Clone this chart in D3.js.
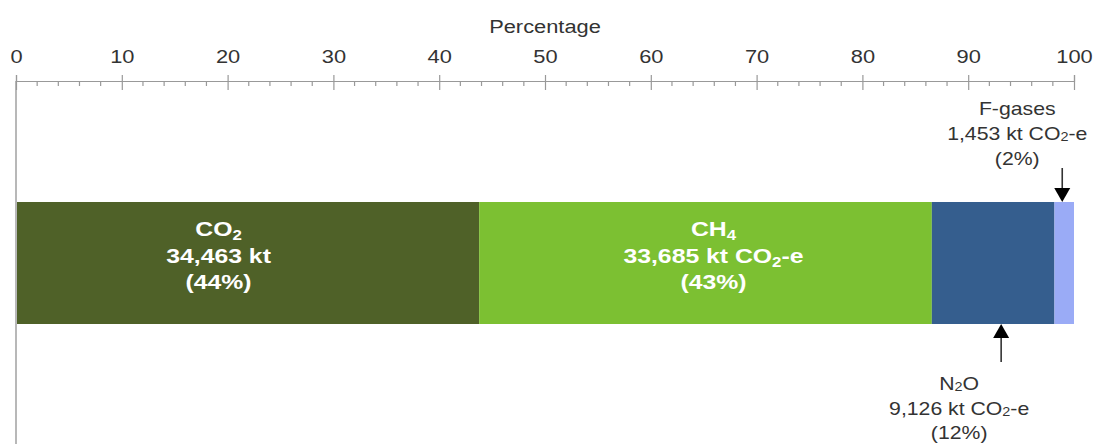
<!DOCTYPE html>
<html>
<head>
<meta charset="utf-8">
<script src="https://cdn.jsdelivr.net/npm/d3@7"></script>
<style>
  html, body { margin: 0; padding: 0; background: #fff; }
  svg { display: block; font-family: "Liberation Sans", Arial, sans-serif; }
</style>
</head>
<body>
<svg id="chart" width="1095" height="444"></svg>
<script>
// ---- data ----
const gases = ["CO2", "CH4", "N2O", "F-gases"];
const values = [34463, 33685, 9126, 1453];
const amountLabels = ["34,463 kt", "33,685 kt CO2-e", "9,126 kt CO2-e", "1,453 kt CO2-e"];
const shareLabels = ["(44%)", "(43%)", "(12%)", "(2%)"];
const colors = ["#4f6128", "#7cc032", "#355e8e", "#9aabf6"];
const majorTicks = [0, 10, 20, 30, 40, 50, 60, 70, 80, 90, 100];
const minorTicks = [2,4,6,8,12,14,16,18,22,24,26,28,32,34,36,38,42,44,46,48,52,54,56,58,62,64,66,68,72,74,76,78,82,84,86,88,92,94,96,98];
const axisTitle = "Percentage";

// ---- layout (styling) ----
const svg = d3.select("#chart");
const x = d3.scaleLinear().domain([0, 100]).range([16, 1074]);
const axisY = 81, barTop = 202, barBottom = 324;
const SX = 1.18; // horizontal text stretch of the reference
const labelStyle = [
  { mode: "inside", dx: -29 },
  { mode: "inside", dx: 8 },
  { mode: "below", arrowDx: 8, textDx: -34 },
  { mode: "above", arrowDx: -2, textDx: -47 }
];

const total = d3.sum(values);
let acc = 0;
const segs = values.map((v, i) => {
  const s = { i, start: acc / total * 100, end: (acc + v) / total * 100 };
  acc += v;
  return s;
});

// rich text with chemical subscripts
function addRich(textSel, str, subDy) {
  const parts = str.split(/(?<=[A-Z])(\d)/);
  parts.forEach((p, k) => {
    if (p === "") return;
    const isSub = (k % 2 === 1);
    if (isSub) {
      textSel.append("tspan").attr("font-size", "0.68em").attr("dy", subDy).text(p);
    } else {
      const t = textSel.append("tspan").text(p);
      if (k > 0) t.attr("dy", -subDy);
    }
  });
}
function textLine(g, cx, y, str, opts) {
  const t = g.append("text")
    .attr("transform", `translate(${cx},${y}) scale(${SX},1)`)
    .attr("text-anchor", "middle")
    .attr("font-size", opts.size)
    .attr("font-weight", opts.weight || "normal")
    .attr("fill", opts.fill);
  addRich(t, str, opts.subDy);
  return t;
}

// ---- vertical axis line ----
svg.append("line")
  .attr("x1", x(0)).attr("x2", x(0))
  .attr("y1", axisY).attr("y2", 444)
  .attr("stroke", "#b8b8b8").attr("stroke-width", 2);

// ---- top axis ----
const axisG = svg.append("g").attr("transform", `translate(0,${axisY})`)
  .call(d3.axisTop(x).tickValues(majorTicks).tickSize(6).tickFormat(d3.format("d")));
axisG.select(".domain").attr("stroke", "#999").attr("stroke-width", 1.2);
axisG.selectAll(".tick line").attr("y1", 9).attr("y2", -6).attr("stroke", "#999").attr("stroke-width", 1.2);
axisG.selectAll(".tick text")
  .attr("y", -18).attr("dy", 0)
  .attr("font-size", 19)
  .attr("fill", "#333")
  .attr("font-family", "Liberation Sans, Arial, sans-serif")
  .attr("transform", `scale(${SX - 0.03},1)`);

svg.append("g").selectAll("line").data(minorTicks).join("line")
  .attr("x1", d => x(d)).attr("x2", d => x(d))
  .attr("y1", axisY).attr("y2", axisY + 5)
  .attr("stroke", "#999").attr("stroke-width", 1.2);

svg.append("text")
  .attr("transform", `translate(${x(50)},33) scale(${SX - 0.03},1)`)
  .attr("text-anchor", "middle").attr("font-size", 19).attr("fill", "#333")
  .text(axisTitle);

// ---- bars ----
svg.append("g").selectAll("rect").data(segs).join("rect")
  .attr("x", d => x(d.start) + (d.i === 0 ? 1 : 0))
  .attr("y", barTop)
  .attr("width", d => x(d.end) - x(d.start) - (d.i === 0 ? 1 : 0))
  .attr("height", barBottom - barTop)
  .attr("fill", d => colors[d.i]);

// ---- labels ----
const lg = svg.append("g");
segs.forEach(s => {
  const st = labelStyle[s.i];
  const mid = (x(s.start) + x(s.end)) / 2;
  const lines = [gases[s.i], amountLabels[s.i], shareLabels[s.i]];
  if (st.mode === "inside") {
    const cx = mid + st.dx;
    const ys = [236, 263, 289];
    lines.forEach((ln, k) => textLine(lg, cx, ys[k], ln, { size: 21, weight: "bold", fill: "#fff", subDy: 4 }));
  } else {
    const ax = mid + st.arrowDx;
    const cx = mid + st.textDx;
    let ys, shaft, head;
    if (st.mode === "above") {
      ys = [115, 140, 165];
      shaft = [168, 192];
      head = `M${ax - 8},${barTop - 14}L${ax + 8},${barTop - 14}L${ax},${barTop}Z`;
    } else {
      ys = [390, 415, 439];
      shaft = [334, 362];
      head = `M${ax - 8},${barBottom + 14}L${ax + 8},${barBottom + 14}L${ax},${barBottom}Z`;
    }
    lg.append("line").attr("x1", ax).attr("x2", ax).attr("y1", shaft[0]).attr("y2", shaft[1])
      .attr("stroke", "#333").attr("stroke-width", 1.6);
    lg.append("path").attr("d", head).attr("fill", "#000");
    lines.forEach((ln, k) => textLine(lg, cx, ys[k], ln, { size: 18, fill: "#333", subDy: 1 }));
  }
});
</script>
</body>
</html>
